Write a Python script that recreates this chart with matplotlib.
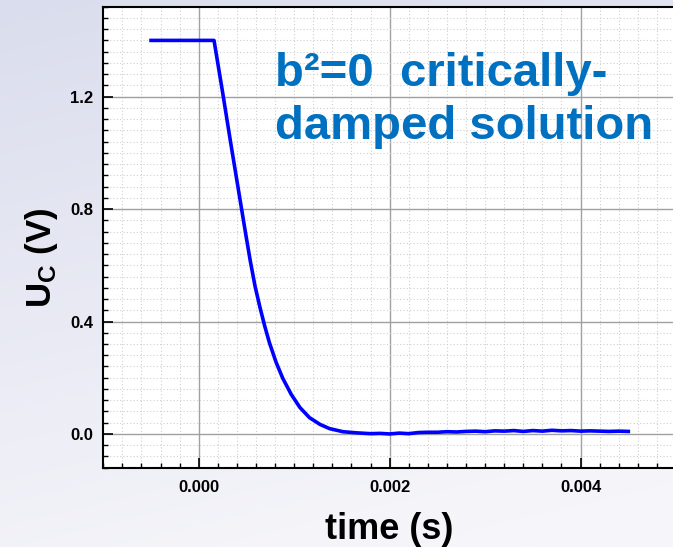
import matplotlib
matplotlib.use('Agg')
import matplotlib.pyplot as plt
import numpy as np
from matplotlib.ticker import MultipleLocator, FormatStrFormatter

plt.rcParams['font.family'] = ['Liberation Sans', 'DejaVu Sans']
plt.rcParams['font.weight'] = 'bold'
plt.rcParams['mathtext.fontset'] = 'custom'
plt.rcParams['mathtext.rm'] = 'Liberation Sans:bold'
plt.rcParams['mathtext.bf'] = 'Liberation Sans:bold'

# capacitor voltage
time_s = [-0.0005, 0.00016, 0.00025, 0.00033, 0.00041, 0.00049, 0.00054,
          0.00059, 0.00064, 0.00069, 0.00074, 0.00081, 0.00088,
          0.00097, 0.00106, 0.00116, 0.00127, 0.00137, 0.00151, 0.00165,
          0.0017, 0.0018, 0.0019, 0.0020, 0.0021, 0.0022, 0.0023, 0.0024,
          0.0025, 0.0026, 0.0027, 0.0028, 0.0029, 0.0030, 0.0031, 0.0032,
          0.0033, 0.0034, 0.0035, 0.0036, 0.0037, 0.0038, 0.0039, 0.0040,
          0.0041, 0.0042, 0.0043, 0.0044, 0.0045]
uc_volt = [1.40, 1.40, 1.215, 1.045, 0.880, 0.715, 0.615,
           0.525, 0.452, 0.385, 0.325, 0.255, 0.198,
           0.140, 0.094, 0.058, 0.034, 0.019, 0.008, 0.004,
           0.003, 0.001, 0.002, 0.000, 0.003, 0.001, 0.005, 0.006,
           0.006, 0.008, 0.007, 0.009, 0.010, 0.008, 0.011, 0.010,
           0.012, 0.009, 0.012, 0.010, 0.013, 0.011, 0.012, 0.010,
           0.011, 0.010, 0.009, 0.010, 0.009]

note = "b\u00b2=0  critically-\ndamped solution"

fig = plt.figure(figsize=(6.73, 5.47), dpi=100)

# slide-like gradient background
bg = fig.add_axes([0, 0, 1, 1], zorder=-1)
gy = np.linspace(0, 1, 200)[:, None]
gx = np.linspace(0, 1, 200)[None, :]
top = np.array([218, 221, 237]) / 255.0
bot = np.array([246, 246, 250]) / 255.0
mix = np.clip(gy * 0.85 + gx * 0.25, 0, 1)
img = top[None, None, :] * (1 - mix[..., None]) + bot[None, None, :] * mix[..., None]
bg.imshow(img, aspect='auto', extent=[0, 1, 0, 1])
bg.axis('off')

ax = fig.add_axes([0.1535, 0.145, 0.851, 0.8428])
ax.set_facecolor('white')
ax.plot(time_s, uc_volt, color='#0000ff', lw=2.6, zorder=3)

ax.set_xlim(-0.001, 0.005)
ax.set_ylim(-0.12, 1.52)
ax.xaxis.set_major_locator(MultipleLocator(0.002))
ax.xaxis.set_minor_locator(MultipleLocator(0.0002))
ax.yaxis.set_major_locator(MultipleLocator(0.4))
ax.yaxis.set_minor_locator(MultipleLocator(0.04))
ax.xaxis.set_major_formatter(FormatStrFormatter('%.3f'))
ax.yaxis.set_major_formatter(FormatStrFormatter('%.1f'))

ax.grid(which='major', color='#a0a0a0', lw=1.0, ls='-')
ax.grid(which='minor', color='#cfcfcf', lw=0.8, ls=(0, (1, 2)))
ax.set_axisbelow(True)

ax.tick_params(which='major', direction='in', length=7, width=1.2,
               labelsize=12, colors='black')
ax.tick_params(which='minor', direction='in', length=3.5, width=1.0)
ax.tick_params(axis='x', which='major', pad=9)
ax.tick_params(axis='y', which='major', pad=7)
for lbl in ax.get_xticklabels() + ax.get_yticklabels():
    lbl.set_fontweight('bold')
for s in ax.spines.values():
    s.set_linewidth(1.5)
    s.set_color('black')

ax.set_xlabel('time (s)', fontsize=26, fontweight='bold', labelpad=12)
ax.set_ylabel(r'$\mathbf{U_C}$ (V)', fontsize=25, fontweight='bold')
ax.yaxis.set_label_coords(-0.075, 0.455)

ax.text(0.0008, 1.05, note, color='#0070C0', fontsize=34, fontweight='bold',
        va='baseline', ha='left', linespacing=1.27, zorder=4)

fig.savefig('out.png', dpi=100)
